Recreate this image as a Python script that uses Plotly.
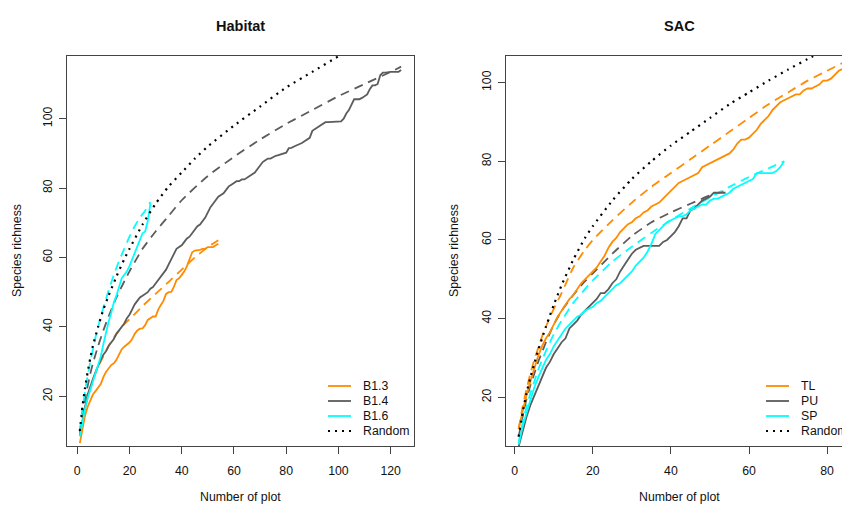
import plotly.graph_objects as go

# ---------------- data: Habitat panel ----------------
b13_obs = [6.5, 11, 14.5, 17, 19, 20.5, 21.5, 22.5, 23.5, 25.5, 27, 28, 29, 29.5, 30.5, 32, 33.5, 34.3, 34.8, 35.5,
           36.5, 38, 39, 39.5, 39.6, 40.5, 42, 42.5, 43, 43, 45, 46.3, 47.5, 49.5, 50, 50.1, 51.5, 53.5, 54, 55,
           56, 57.5, 59.5, 61.5, 62, 62, 62.2, 62.5, 62.5, 63, 63, 63, 63.5, 64]
b14_obs = [8.5, 13, 17, 20.5, 23, 25, 27, 29, 30.5, 32, 33, 34.5, 35.5, 36.5, 38, 39, 40, 41, 42.5, 43.5,
           45, 46.5, 47.5, 48.5, 49, 49.5, 50, 51, 51.5, 52.5, 53.5, 54.5, 55.5, 56.5, 58, 59.5, 61, 62.5, 63, 63.5,
           64.5, 65.5, 66, 67, 68, 69, 69.5, 70.5, 71.5, 73, 74.5, 75.5, 76.5, 77.5, 78, 78.5, 79.5, 80.5, 81, 81.5,
           82, 82, 82.5, 82.5, 83, 83.5, 84, 84.5, 85.5, 86.5, 87.5, 88, 88.5, 88.5, 89, 89.3, 89.5, 89.8, 90, 90.2,
           91.5, 91.6, 92, 92.3, 92.6, 93, 93.5, 94, 94.5, 96.5, 97, 97.5, 98.2, 98.5, 99, 99, 99, 99, 99, 99,
           99.2, 100, 101.5, 102.5, 104, 105.6, 105.6, 105.6, 106, 106.5, 107, 108.5, 109.6, 109.6, 110, 112.5, 113.3, 113.3, 113.5, 113.5,
           113.5, 113.5, 113.5, 114]
b16_obs = [8.5, 13, 16.5, 19.5, 22, 24, 26.5, 29, 31.5, 35, 38.5, 41.5, 44, 47, 49, 51.5, 54, 55, 56, 57.5,
           59.5, 61.5, 63.5, 65.5, 67, 67.5, 70.5, 75.5]

b13_exp_x = [1, 2, 3, 4, 5, 6, 8, 10, 12, 15, 18, 20, 25, 30, 35, 40, 45, 50, 54]
b13_exp_y = [8.5, 13, 16.5, 19.5, 22, 24.5, 28.5, 31.5, 34.5, 38, 40.8, 42.2, 46, 49.5, 53, 56.5, 60, 63, 65]
b14_exp_x = [1, 2, 3, 4, 5, 6, 8, 10, 12, 15, 20, 25, 30, 35, 40, 50, 60, 70, 80, 90, 100, 110, 120, 124]
b14_exp_y = [9.5, 15, 19.5, 23, 26.5, 29.5, 34.5, 39, 43, 48.5, 56, 62.5, 67.5, 72, 76.5, 83.5, 89, 94, 98.5, 102.5,
             106.5, 110, 113.5, 115]
b16_exp_x = [1, 2, 3, 4, 5, 6, 7, 8, 9, 10, 12, 14, 16, 18, 20, 22, 24, 26, 28]
b16_exp_y = [10, 16.5, 21.5, 26, 30, 33.5, 37, 40, 43, 45.5, 50.5, 55, 59, 62.5, 66, 69, 71.5, 73.5, 76]
hab_rand_x = [1, 2, 3, 4, 5, 6, 8, 10, 12, 15, 18, 20, 25, 30, 35, 40, 45, 50, 60, 70, 80, 90, 100, 104]
hab_rand_y = [10, 17, 22.5, 27, 31, 34.5, 40, 45, 49, 54.5, 59.5, 62.5, 69.5, 75.5, 80.5, 84.5, 88.5, 92, 98,
              103.5, 109, 113.5, 118, 120]

# ---------------- data: SAC panel ----------------
tl_obs = [12, 16.5, 20.5, 24, 27.5, 30.5, 33, 35, 36.5, 38.5, 40.5, 42, 43.5, 45, 46, 47.5, 49, 50, 51, 52,
          53, 54.5, 56, 58, 59.5, 60.5, 62, 63, 64, 64.5, 65.5, 66, 67, 67.5, 68.5, 69, 69.5, 70.5, 71.5, 72.5,
          73.5, 74.5, 75, 75.5, 76, 76.5, 77, 78.5, 79, 79.5, 80, 80.5, 81, 81.5, 82, 83, 84.5, 85.5, 85.5, 86,
          87, 88, 89.5, 90.5, 91.5, 93, 94, 95, 95.5, 96, 96.5, 97, 97, 98, 98.5, 98.5, 99, 99.5, 100.5, 100.5,
          101, 102, 103, 103.5]
pu_obs = [7.5, 11.5, 15, 18, 20.5, 23, 25.5, 27.5, 29, 31, 32.5, 34, 35, 37.5, 38.5, 39.5, 41, 42, 43, 44,
          45, 46.5, 46.5, 47.5, 49, 50, 52, 53.5, 55, 56.5, 57.5, 58, 58.5, 58.5, 58.5, 58.5, 58.5, 59.5, 60, 61,
          62, 63.5, 65.5, 65.5, 67.5, 68, 69, 70, 70.5, 71, 72, 72, 72, 72]
sp_obs = [8, 12.5, 16, 19.5, 22.5, 25, 27.5, 29.5, 31, 33, 34.5, 36, 37.5, 38.5, 39.5, 40.5, 41, 42, 42.5, 43,
          44, 44.5, 45.5, 46.5, 47.5, 48.5, 49, 50, 51, 52, 53.5, 54.5, 55.5, 57, 59, 61.5, 62.5, 63.5, 64.5, 65,
          65.5, 66, 66, 66.5, 67.5, 68, 68.5, 69, 69, 70, 70.5, 70.5, 71, 71.5, 72, 73, 73.5, 74, 74.5, 75,
          75.5, 77, 77, 77, 77, 77, 77.5, 78.5, 80]

tl_exp_x = [1, 2, 3, 4, 5, 6, 7, 8, 10, 12, 15, 18, 20, 25, 30, 35, 40, 45, 50, 55, 60, 65, 70, 75, 80, 84]
tl_exp_y = [12, 17.5, 22, 26, 29.5, 32.5, 35.5, 38, 42.5, 46.5, 53, 57.5, 60, 65, 69.5, 73.5, 77, 80.5, 84, 87.5,
            91, 94.5, 97.5, 100.5, 103, 105]
pu_exp_x = [1, 2, 3, 4, 5, 6, 7, 8, 10, 12, 15, 18, 20, 25, 30, 35, 40, 45, 50, 54]
pu_exp_y = [10, 15, 19.5, 23, 26, 29, 31.5, 34, 38.5, 42, 46, 49.5, 51.5, 56.5, 61, 64.5, 67, 69.2, 71.3, 72.5]
sp_exp_x = [1, 2, 3, 4, 5, 6, 7, 8, 10, 12, 15, 18, 20, 25, 30, 35, 40, 45, 50, 55, 60, 65, 69]
sp_exp_y = [8.5, 13.5, 17.5, 21, 24, 27, 29.5, 31.8, 36, 39.5, 44, 47.5, 49.7, 54.5, 58.3, 61.8, 65, 68, 70.8,
            73.5, 76, 78.2, 80]
sac_rand_x = [1, 2, 3, 4, 5, 6, 7, 8, 10, 12, 15, 18, 20, 25, 30, 35, 40, 45, 50, 55, 60, 65, 70, 75, 78]
sac_rand_y = [10, 16, 21, 25, 28.5, 32, 35, 38, 43.5, 48.5, 55, 60.5, 63.5, 70, 75.5, 80, 84, 87.5, 91, 94.5,
              97.5, 100.5, 103.3, 106, 107.5]

x_ticks_hab = [0, 20, 40, 60, 80, 100, 120]
x_ticks_sac = [0, 20, 40, 60, 80]
y_ticks = [20, 40, 60, 80, 100]
hab_names = ["B1.3", "B1.4", "B1.6", "Random"]
sac_names = ["TL", "PU", "SP", "Random"]

# ---------------- styles ----------------
W, H = 842, 505
ORANGE = "#FF8C00"
GREY = "#5c5c5c"
CYAN = "#00FFFF"
BLACK = "#000000"
COLS = [ORANGE, GREY, CYAN, BLACK]
LW = 1.8
DASH = "9px,6px"
DOT = "2px,5px"
FONT = "Liberation Sans, Arial, sans-serif"
TXT = "#111111"
AX = "#444444"


def px(x):
    return x / W


def py(y):
    return 1 - y / H


fig = go.Figure()


def obs(vals, col, xa, ya):
    fig.add_trace(go.Scatter(x=list(range(1, len(vals) + 1)), y=vals, mode="lines",
                             line=dict(color=col, width=LW), xaxis=xa, yaxis=ya,
                             showlegend=False, hoverinfo="skip"))


def smooth(xs, ys, col, dash, xa, ya, w=LW):
    fig.add_trace(go.Scatter(x=xs, y=ys, mode="lines",
                             line=dict(color=col, width=w, dash=dash, shape="spline", smoothing=0.6),
                             xaxis=xa, yaxis=ya, showlegend=False, hoverinfo="skip"))


# Habitat panel
smooth(b14_exp_x, b14_exp_y, GREY, DASH, "x", "y")
smooth(b13_exp_x, b13_exp_y, ORANGE, DASH, "x", "y")
smooth(b16_exp_x, b16_exp_y, CYAN, DASH, "x", "y")
obs(b14_obs, GREY, "x", "y")
obs(b13_obs, ORANGE, "x", "y")
obs(b16_obs, CYAN, "x", "y")
smooth(hab_rand_x, hab_rand_y, BLACK, DOT, "x", "y", w=2.2)

# SAC panel
smooth(tl_exp_x, tl_exp_y, ORANGE, DASH, "x2", "y2")
smooth(pu_exp_x, pu_exp_y, GREY, DASH, "x2", "y2")
smooth(sp_exp_x, sp_exp_y, CYAN, DASH, "x2", "y2")
obs(tl_obs, ORANGE, "x2", "y2")
obs(pu_obs, GREY, "x2", "y2")
obs(sp_obs, CYAN, "x2", "y2")
smooth(sac_rand_x, sac_rand_y, BLACK, DOT, "x2", "y2", w=2.2)

ax_common = dict(showgrid=False, zeroline=False, showline=True, linecolor=AX, linewidth=1,
                 ticks="outside", ticklen=7, tickcolor=AX, tickwidth=1,
                 tickfont=dict(family=FONT, size=12.3, color=TXT))

ydom = [py(446), py(56)]
fig.update_layout(
    width=W, height=H, margin=dict(l=0, r=0, t=0, b=0),
    paper_bgcolor="white", plot_bgcolor="white", showlegend=False,
    xaxis=dict(domain=[px(67), px(414)], range=[-3.92, 128.92], tickvals=x_ticks_hab,
               mirror=True, anchor="y", ticklabelstandoff=6, **ax_common),
    yaxis=dict(domain=ydom, range=[5.68, 118.07], tickvals=y_ticks, tickangle=-90,
               mirror=True, anchor="x", ticklabelstandoff=2, **ax_common),
    xaxis2=dict(domain=[px(505.7), 1.0], range=[-2.32, 83.82], tickvals=x_ticks_sac,
                mirror=True, anchor="y2", ticklabelstandoff=6, **ax_common),
    yaxis2=dict(domain=ydom, range=[7.62, 106.76], tickvals=y_ticks, tickangle=-90,
                mirror=False, anchor="x2", ticklabelstandoff=2, **ax_common),
)

ann = []
# titles and axis titles (centred on each full plot region)
for cx, ttl, ylab_x in [(240.5, "Habitat", 17), (679.6, "SAC", 454)]:
    ann.append(dict(x=px(cx), y=py(26), xref="paper", yref="paper", text="<b>%s</b>" % ttl,
                    showarrow=False, xanchor="center", yanchor="middle",
                    font=dict(family=FONT, size=14.5, color=TXT)))
    ann.append(dict(x=px(cx), y=py(497), xref="paper", yref="paper", text="Number of plot",
                    showarrow=False, xanchor="center", yanchor="middle",
                    font=dict(family=FONT, size=12.3, color=TXT)))
    ann.append(dict(x=px(ylab_x), y=py(251), xref="paper", yref="paper", text="Species richness",
                    showarrow=False, xanchor="center", yanchor="middle", textangle=-90,
                    font=dict(family=FONT, size=12.3, color=TXT)))

# legends (key lines + labels)
shapes = []
rows = [386, 401, 416, 431]
for (x0, x1, xt, names) in [(328, 351, 361, hab_names), (766, 789, 799, sac_names)]:
    for i, (nm, col) in enumerate(zip(names, COLS)):
        dash = DOT if nm == "Random" else "solid"
        shapes.append(dict(type="line", xref="paper", yref="paper",
                           x0=px(x0), x1=px(x1), y0=py(rows[i]), y1=py(rows[i]),
                           line=dict(color=col, width=2.2 if nm == "Random" else LW, dash=dash)))
        ann.append(dict(x=px(xt), y=py(rows[i]), xref="paper", yref="paper", text=nm,
                        showarrow=False, xanchor="left", yanchor="middle",
                        font=dict(family=FONT, size=12.3, color=TXT)))

fig.update_layout(annotations=ann, shapes=shapes)
fig.write_html("out.html", config={"displayModeBar": False},
               post_script="document.body.style.margin='0px';document.body.style.padding='0px';")
